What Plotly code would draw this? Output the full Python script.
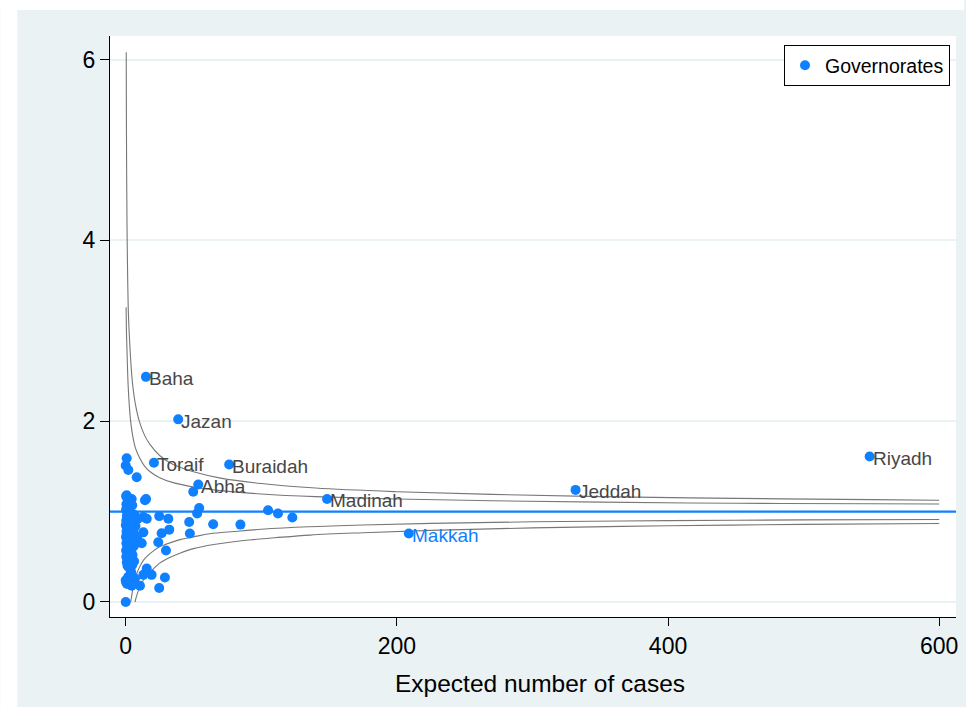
import plotly.graph_objects as go

# ---------------- data ----------------
# unlabeled governorates: expected cases, SMR
gov_x = [0.0, 0.0, 6.8, 10.5, 4.4, 15.5, 13.0, 19.1, 28.9, 24.7, 29.7, 24.0, 26.5, 32.1,
         31.4, 24.7, 46.8, 47.3, 64.5, 84.6, 52.7, 54.2, 105.0, 112.3, 122.9, 13.0, 13.0,
         11.8, 15.5, 14.2, 15.0, 0.7, 4.4, 0.7, 0.0, 1.9, 8.1, 49.8,
         0.3, 1.2, 3.5, 0.5, 2.2, 4.8, 0.2, 1.5, 3.0, 5.5, 0.8, 2.5, 4.2, 6.5, 0.4, 1.8,
         3.3, 5.2, 0.1, 1.0, 2.8, 4.5, 7.2, 0.6, 2.0, 3.7, 5.8, 0.2, 1.4, 3.0, 4.6, 6.8,
         0.5, 2.3, 3.9, 1.1, 0.3, 2.7, 4.3, 1.6, 0.4, 3.2, 5.0, 2.0, 0.8, 3.6, 1.3, 2.6,
         4.8, 6.0, 6.2, 1.9, 3.4, 0.2, 1.0, 5.5, 4.0, 9.0, 8.5]
gov_y = [0.00, 0.24, 0.26, 0.18, 0.18, 0.37, 0.30, 0.30, 0.27, 0.155, 0.57, 0.66, 0.76, 0.80,
         0.92, 0.95, 0.885, 0.757, 0.86, 0.856, 0.98, 1.04, 1.014, 0.978, 0.934, 0.94, 0.77,
         0.65, 0.92, 1.125, 1.14, 1.59, 1.14, 1.18, 1.51, 1.46, 1.38, 1.22,
         1.17, 1.15, 1.13, 1.08, 1.05, 1.07, 1.02, 1.00, 0.99, 0.97, 0.95, 0.93, 0.94, 0.96,
         0.90, 0.88, 0.87, 0.89, 0.85, 0.83, 0.82, 0.80, 0.84, 0.78, 0.76, 0.75, 0.77, 0.72,
         0.70, 0.69, 0.71, 0.68, 0.65, 0.63, 0.62, 0.60, 0.57, 0.56, 0.58, 0.53, 0.50, 0.50,
         0.52, 0.46, 0.44, 0.44, 0.40, 0.38, 0.41, 0.62, 0.45, 0.28, 0.25, 0.22, 0.20, 0.20,
         0.33, 0.92, 0.72]

# labeled governorates
lab_names = ["Baha", "Jazan", "Toraif", "Buraidah", "Abha", "Madinah", "Jeddah", "Riyadh", "Makkah"]
lab_x = [14.9, 38.7, 20.8, 76.3, 53.5, 148.5, 331.8, 548.7, 208.8]
lab_y = [2.49, 2.02, 1.54, 1.52, 1.30, 1.14, 1.24, 1.61, 0.757]

# control limits
up998_x = [0.37, 0.5, 0.7, 1.0, 1.5, 2, 3, 4, 5, 7, 10, 14, 18, 25, 35, 50, 70, 100, 140,
           200, 270, 350, 450, 550, 600]
up998_y = [6.08, 5.37, 4.69, 4.09, 3.52, 3.18, 2.85, 2.60, 2.42, 2.20, 2.00, 1.84, 1.74,
           1.62, 1.52, 1.44, 1.37, 1.31, 1.26, 1.22, 1.19, 1.165, 1.146, 1.132, 1.126]
up95_x = [0.3, 0.6, 1.0, 1.5, 2, 3, 4, 5, 7, 10, 14, 18, 25, 35, 50, 70, 100, 140, 200,
          270, 350, 450, 550, 600]
up95_y = [3.26, 2.95, 2.75, 2.50, 2.33, 2.10, 1.95, 1.85, 1.71, 1.60, 1.50, 1.44, 1.375,
          1.32, 1.272, 1.232, 1.195, 1.165, 1.139, 1.12, 1.105, 1.092, 1.086, 1.084]
lo95_x = [3.7, 5, 6.5, 8, 10, 13, 16, 20, 25, 30, 40, 50, 62, 80, 100, 135, 175, 225, 300,
          400, 500, 600]
lo95_y = [0.0, 0.12, 0.22, 0.31, 0.38, 0.46, 0.51, 0.56, 0.61, 0.64, 0.69, 0.72, 0.755,
          0.78, 0.804, 0.832, 0.852, 0.869, 0.887, 0.900, 0.908, 0.913]
lo998_x = [6.8, 8.5, 10.5, 13, 15.5, 20, 25, 32, 40, 50, 65, 87, 110, 136, 175, 225, 300,
           400, 500, 600]
lo998_y = [0.0, 0.09, 0.17, 0.24, 0.29, 0.36, 0.43, 0.49, 0.54, 0.59, 0.635, 0.68, 0.71,
           0.74, 0.766, 0.792, 0.82, 0.843, 0.858, 0.868]

ref_value = 1
x_ticks = [0, 200, 400, 600]
y_ticks = [0, 2, 4, 6]
x_title = "Expected number of cases"

# ---------------- styling ----------------
BLUE = "#0F80FF"
GRAY_BG = "#EAF2F3"
CURVE = "#777777"
FONT = "Liberation Sans, Arial, sans-serif"

fig = go.Figure()

for cx, cy in [(up998_x, up998_y), (up95_x, up95_y), (lo95_x, lo95_y), (lo998_x, lo998_y)]:
    fig.add_trace(go.Scatter(x=cx, y=cy, mode="lines", line=dict(color=CURVE, width=1.1),
                             line_shape="spline", showlegend=False, hoverinfo="skip"))

fig.add_hline(y=ref_value, line=dict(color=BLUE, width=2.2), layer="above")

fig.add_trace(go.Scatter(x=gov_x + lab_x, y=gov_y + lab_y, mode="markers",
                         marker=dict(color=BLUE, size=10, line=dict(width=0)),
                         name="Governorates", showlegend=True))

for name, lx, ly in zip(lab_names, lab_x, lab_y):
    fig.add_annotation(x=lx, y=ly, text=name, showarrow=False, xanchor="left",
                       yanchor="middle", xshift=1, yshift=-2,
                       font=dict(family=FONT, size=19,
                                 color=BLUE if name == "Makkah" else "#474747"))

L, R, T, B = 110, 8, 36, 90
W, H = 966, 707
pw, ph = W - L - R, H - T - B

# x-axis title (placed as in the reference)
fig.add_annotation(text=x_title, xref="paper", yref="paper",
                   x=(541.5 - L) / pw, y=(H - B - 683) / ph, xanchor="center", yanchor="middle",
                   showarrow=False, font=dict(family=FONT, size=24.5, color="black"))

# white strips outside the grey graph region (left and top)
fig.add_shape(type="rect", xref="paper", yref="paper",
              x0=-L / pw, x1=(17 - L) / pw, y0=-B / ph, y1=(H - B) / ph,
              fillcolor="white", line=dict(width=0), layer="below")
fig.add_shape(type="rect", xref="paper", yref="paper",
              x0=-L / pw, x1=(W - L) / pw, y0=(H - B - 10) / ph, y1=(H - B) / ph,
              fillcolor="white", line=dict(width=0), layer="below")

fig.update_layout(
    width=W, height=H,
    margin=dict(l=L, r=R, t=T, b=B),
    paper_bgcolor=GRAY_BG, plot_bgcolor="white",
    font=dict(family=FONT, color="black"),
    showlegend=True,
    legend=dict(x=(952 - L) / pw, xanchor="right", y=(H - B - 45) / ph, yanchor="top",
                bgcolor="white", bordercolor="black", borderwidth=1,
                font=dict(family=FONT, size=19.5, color="black")),
    xaxis=dict(range=[-11.6, 612.4], tickvals=x_ticks, ticktext=[str(v) for v in x_ticks],
               showgrid=False, zeroline=False, showline=True, linecolor="black", linewidth=1.2,
               ticks="outside", ticklen=8, tickcolor="black", tickwidth=1,
               tickfont=dict(size=23, family=FONT, color="black")),
    yaxis=dict(range=[-0.166, 6.26], tickvals=y_ticks, ticktext=[str(v) for v in y_ticks],
               showgrid=True, gridcolor=GRAY_BG, gridwidth=2, zeroline=False,
               showline=True, linecolor="black", linewidth=1.2,
               ticks="outside", ticklen=9, tickcolor="black", tickwidth=1,
               tickfont=dict(size=23, family=FONT, color="black")),
)

fig.write_html("out.html", config={"displayModeBar": False},
               post_script="document.body.style.margin='0';document.body.style.padding='0';")
